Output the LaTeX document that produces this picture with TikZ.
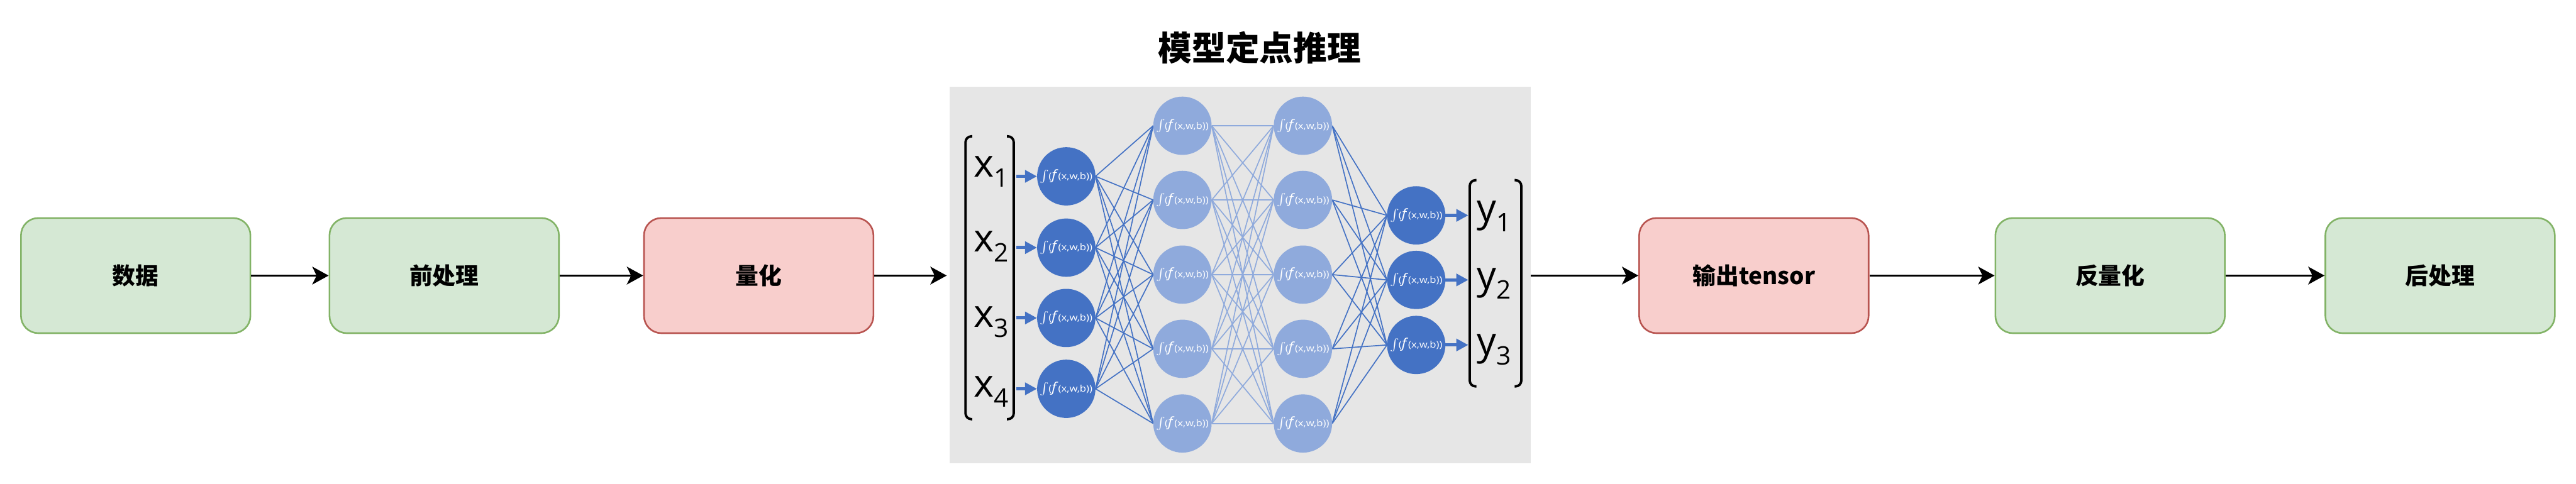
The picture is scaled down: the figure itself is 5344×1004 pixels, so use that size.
\documentclass[tikz,border=0pt]{standalone}
\usepackage{amsmath}
\usepackage{fontspec}
\setmainfont{Open Sans}
\newfontfamily\cjk{Noto Sans CJK SC}
\usetikzlibrary{arrows.meta,backgrounds}
\definecolor{gfill}{HTML}{D5E8D4}
\definecolor{gdraw}{HTML}{82B366}
\definecolor{rfill}{HTML}{F8CECC}
\definecolor{rdraw}{HTML}{B85450}
\definecolor{panel}{HTML}{E6E6E6}
\definecolor{nndark}{HTML}{4472C4}
\definecolor{nnlight}{HTML}{8FAADC}
\newcommand\nnlab{\scalebox{1.15}[1]{{\fontsize{38}{38}\selectfont$\int$}\kern-1pt{\fontsize{19}{19}\selectfont(}{\fontsize{27}{27}\selectfont\itshape f}{\fontsize{19}{19}\selectfont\,(x,w,b))}}}
\newcommand\vlab[2]{{\fontsize{80}{80}\selectfont #1}\raisebox{-21pt}{\fontsize{53}{53}\selectfont #2}}
\begin{document}
\begin{tikzpicture}[x=1pt,y=-1pt,
  proc/.style={draw, line width=3.4pt, rounded corners=36pt, minimum width=476pt, minimum height=239pt, inner sep=0pt, font=\cjk\bfseries\fontsize{48}{48}\selectfont},
  greenbox/.style={proc, fill=gfill, draw=gdraw},
  redbox/.style={proc, fill=rfill, draw=rdraw},
  flow/.style={line width=3.8pt, draw=black, -{Stealth[length=34pt,width=37pt,inset=9pt]}},
  neuron/.style={circle, minimum size=121pt, inner sep=0pt, text=white},
  dneuron/.style={neuron, fill=nndark},
  lneuron/.style={neuron, fill=nnlight},
  dlink/.style={draw=nndark, line width=2.2pt},
  llink/.style={draw=nnlight, line width=2.2pt},
  barrow/.style={draw=nndark, line width=6.5pt, -{Triangle[length=25pt,width=25pt]}},
  brk/.style={draw=black, line width=5pt, rounded corners=12pt},
  vlabel/.style={anchor=base west, inner sep=0pt}
]
\useasboundingbox (0,0) rectangle (5344,1004);

\node[font=\cjk\bfseries\fontsize{70}{70}\selectfont] (title) at (2613,99) {模型定点推理};

% pipeline boxes
\node[greenbox] (b1) at (281.5,572) {数据};
\node[greenbox] (b2) at (921.5,572) {前处理};
\node[redbox]   (b3) at (1574,572) {量化};
\node[redbox]   (b4) at (3638.5,572) {输出tensor};
\node[greenbox] (b5) at (4377.5,572) {反量化};
\node[greenbox] (b6) at (5062,572) {后处理};

\coordinate (gin) at (1964,572);
\coordinate (gout) at (3176,572);
\draw[flow] (b1) -- (b2);
\draw[flow] (b2) -- (b3);
\draw[flow] (b3) -- (gin);
\draw[flow] (gout) -- (b4);
\draw[flow] (b4) -- (b5);
\draw[flow] (b5) -- (b6);

% neurons
\foreach \i/\y in {1/366,2/514,3/660,4/807} \node[dneuron] (a\i) at (2212,\y) {\nnlab};
\foreach \i/\y in {1/261,2/415,3/570,4/724,5/879} \node[lneuron] (h\i) at (2453,\y) {\nnlab};
\foreach \i/\y in {1/261,2/415,3/570,4/724,5/879} \node[lneuron] (k\i) at (2703,\y) {\nnlab};
\foreach \i/\y in {1/447,2/581,3/716} \node[dneuron] (d\i) at (2938,\y) {\nnlab};

% links and panel behind neurons
\begin{scope}[on background layer]
\fill[panel] (1970,180) rectangle (3175,961);
\foreach \i in {1,...,4} \foreach \j in {1,...,5} \draw[dlink] (a\i.east) -- (h\j.west);
\foreach \i in {1,...,5} \foreach \j in {1,...,5} \draw[llink] (h\i.east) -- (k\j.west);
\foreach \i in {1,...,5} \foreach \j in {1,...,3} \draw[dlink] (k\i.east) -- (d\j.west);
\end{scope}

% input vector
\draw[brk] (2017,283) -- (2003,283) -- (2003,870) -- (2017,870);
\draw[brk] (2089,283) -- (2103,283) -- (2103,870) -- (2089,870);
\node[vlabel] (x1) at (2020,367) {\vlab{x}{1}};
\node[vlabel] (x2) at (2020,522) {\vlab{x}{2}};
\node[vlabel] (x3) at (2020,679) {\vlab{x}{3}};
\node[vlabel] (x4) at (2020,824) {\vlab{x}{4}};
\foreach \i/\y in {1/366,2/514,3/660,4/807} {
  \coordinate (xs\i) at (2108,\y);
  \draw[barrow] (xs\i) -- (a\i.west);
}

% output vector
\draw[brk] (3063,374) -- (3049,374) -- (3049,802) -- (3063,802);
\draw[brk] (3142,374) -- (3156,374) -- (3156,802) -- (3142,802);
\node[vlabel] (y1) at (3064,460) {\vlab{y}{1}};
\node[vlabel] (y2) at (3064,600) {\vlab{y}{2}};
\node[vlabel] (y3) at (3064,736) {\vlab{y}{3}};
\foreach \i/\y in {1/447,2/581,3/716} {
  \coordinate (ys\i) at (3046,\y);
  \draw[barrow] (d\i.east) -- (ys\i);
}
\end{tikzpicture}
\end{document}
